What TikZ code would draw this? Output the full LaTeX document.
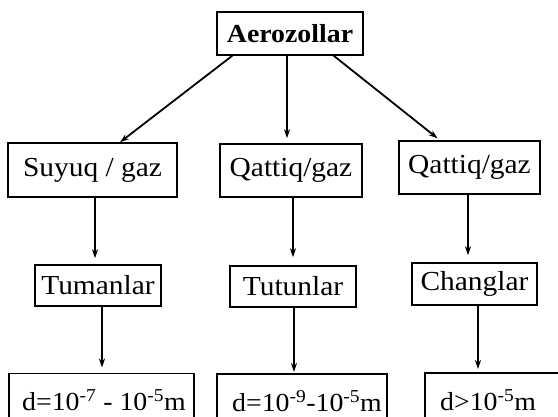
\documentclass[tikz,border=0pt]{standalone}
\usepackage{fontspec}
\setmainfont{Liberation Serif}[FakeStretch=1.07]
\usetikzlibrary{arrows.meta}
\begin{document}
\begin{tikzpicture}[x=1pt,y=-1pt,
  box/.style={draw=black, line width=1.5pt, inner sep=0pt, font=\fontsize{27.5}{31}\selectfont},
  txt/.style={inner sep=0pt, anchor=west, font=\fontsize{26}{30}\selectfont},
  arr/.style={line width=1.8pt, -{Stealth[length=9pt,width=6pt]}}]
\useasboundingbox (0,0) rectangle (558,416);
\fill[white] (0,0) rectangle (558,416);
\clip (0,0) rectangle (558,416);
% top
\node[box, minimum width=146pt, minimum height=43pt, font=\fontsize{26}{30}\selectfont\bfseries] (aero) at (290,33.5) {Aerozollar};
% row 2
\node[box, minimum width=169pt, minimum height=54pt] (s1) at (92.5,170) {Suyuq / gaz};
\node[box, minimum width=142pt, minimum height=53pt] (s2) at (291,170.5) {Qattiq/gaz};
\node[box, minimum width=141pt, minimum height=53pt] (s3) at (469.5,167.5) {Qattiq/gaz};
% row 3
\node[box, minimum width=126pt, minimum height=41pt] (t1) at (98,285.5) {Tumanlar};
\node[box, minimum width=126pt, minimum height=41pt] (t2) at (293,286.5) {Tutunlar};
\node[box, minimum width=125pt, minimum height=42pt] (t3) at (474.5,284) {Changlar};
% row 4 (cropped by the frame)
\node[box, anchor=north west, minimum width=185pt, minimum height=52pt] (b1) at (8,372.5) {};
\node[box, anchor=north west, minimum width=170pt, minimum height=52pt] (b2) at (216,373) {};
\node[box, anchor=north west, minimum width=150pt, minimum height=52pt] (b3) at (424,372) {};
\node[txt] (b1t) at ([xshift=14pt,yshift=-1pt]b1.west) {d=10\textsuperscript{-7} - 10\textsuperscript{-5}m};
\node[txt] (b2t) at ([xshift=16pt,yshift=-1pt]b2.west) {d=10\textsuperscript{-9}-10\textsuperscript{-5}m};
\node[txt] (b3t) at ([xshift=16pt,yshift=-1pt]b3.west) {d>10\textsuperscript{-5}m};
% arrows from top
\draw[arr] ([xshift=16pt]aero.south west) -- ([xshift=27.5pt]s1.north);
\draw[arr] ([xshift=-3pt]aero.south) -- ([xshift=-3pt]aero.south |- s2.north) [shorten >=5pt];
\draw[arr] ([xshift=-30pt]aero.south east) -- ([xshift=-29.5pt]s3.north) [shorten >=3pt];
% verticals
\draw[arr, shorten >=6pt] ([xshift=2.5pt]s1.south) -- ([xshift=2.5pt]s1.south |- t1.north);
\draw[arr, shorten >=8pt] ([xshift=2pt]s2.south) -- ([xshift=2pt]s2.south |- t2.north);
\draw[arr, shorten >=7pt] ([xshift=-1.5pt]s3.south) -- ([xshift=-1.5pt]s3.south |- t3.north);
\draw[arr, shorten >=5pt] ([xshift=4pt]t1.south) -- ([xshift=4pt]t1.south |- b1.north);
\draw[arr, shorten >=1pt] ([xshift=1pt]t2.south) -- ([xshift=1pt]t2.south |- b2.north);
\draw[arr, shorten >=3pt] ([xshift=3.5pt]t3.south) -- ([xshift=3.5pt]t3.south |- b3.north);
\end{tikzpicture}
\end{document}
